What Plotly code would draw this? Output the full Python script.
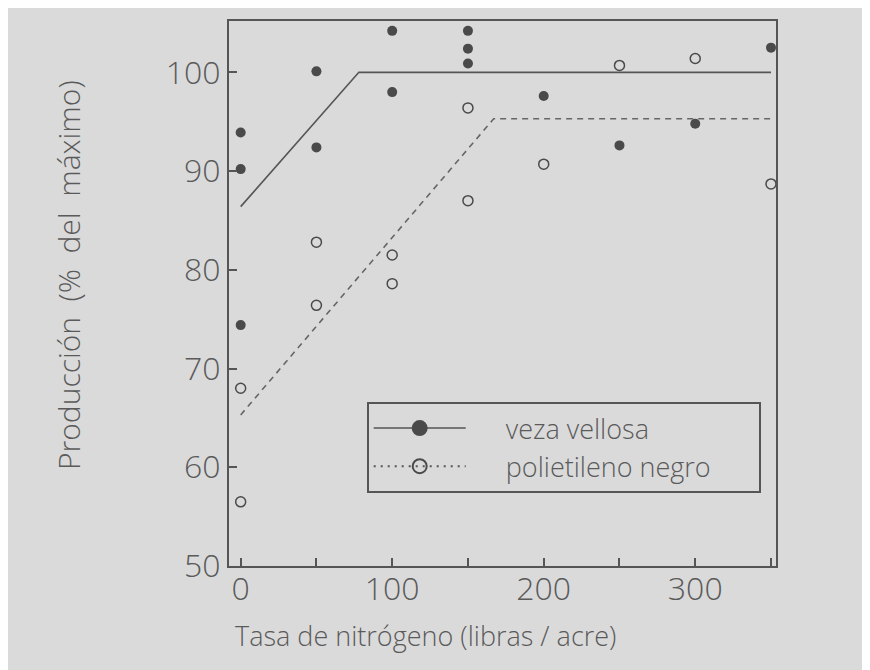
import plotly.graph_objects as go

# Data: veza vellosa (filled) and polietileno negro (open)
veza_x = [0, 0, 0, 50, 50, 100, 100, 150, 150, 150, 200, 250, 300, 350]
veza_y = [93.9, 90.2, 74.4, 100.1, 92.4, 104.2, 98.0, 104.2, 102.4, 100.9, 97.6, 92.6, 94.8, 102.5]

poli_x = [0, 0, 50, 50, 100, 100, 150, 150, 200, 250, 300, 350]
poli_y = [68.0, 56.5, 82.8, 76.4, 81.5, 78.6, 96.4, 87.0, 90.7, 100.7, 101.4, 88.7]

# fitted linear-plateau models
veza_fit_x = [0, 78, 350]
veza_fit_y = [86.4, 100, 100]
poli_fit_x = [0, 167, 350]
poli_fit_y = [65.3, 95.3, 95.3]

x_ticks = [0, 100, 200, 300]
y_ticks = [50, 60, 70, 80, 90, 100]
x_minor = [0, 50, 100, 150, 200, 250, 300, 350]

names = ["veza vellosa", "polietileno negro"]

INK = "#4a4a4a"
TXT = "#5a5a5a"
BG = "#dadada"
FONT = "Open Sans"
W = 300

# page offset (body margin) compensation
OFF = 8
L, T, R, B = 229 - OFF, 21 - OFF, 870 - 776 + OFF, 670 - 566 + OFF
PW, PH = 870 - L - R, 670 - T - B

def px2paper(px, py):
    return ((px - OFF - L) / PW, (670 - B - (py - OFF)) / PH)

fig = go.Figure()

fig.add_trace(go.Scatter(x=veza_fit_x, y=veza_fit_y, mode="lines",
                         line=dict(color="#555555", width=1.6), showlegend=False, hoverinfo="skip"))
fig.add_trace(go.Scatter(x=poli_fit_x, y=poli_fit_y, mode="lines",
                         line=dict(color="#666666", width=1.6, dash="6px,5px"), showlegend=False, hoverinfo="skip"))
fig.add_trace(go.Scatter(x=veza_x, y=veza_y, mode="markers",
                         marker=dict(symbol="circle", size=10, color=INK, line=dict(width=0)),
                         showlegend=False))
fig.add_trace(go.Scatter(x=poli_x, y=poli_y, mode="markers",
                         marker=dict(symbol="circle-open", size=10, color=INK, line=dict(width=1.5)),
                         showlegend=False))

pad = "\u00a0" * 5
tail = "\u00a0" * 6
# legend-only entries
fig.add_trace(go.Scatter(x=[None], y=[None], mode="lines+markers", name=pad + names[0],
                         line=dict(color="#555555", width=1.6),
                         marker=dict(symbol="circle", size=17, color=INK)))
fig.add_trace(go.Scatter(x=[None], y=[None], mode="lines+markers", name=pad + names[1] + tail,
                         line=dict(color="#555555", width=2, dash="2px,5px"),
                         marker=dict(symbol="circle-open", size=14, color=INK, line=dict(width=2))))

lx, ly = px2paper(366.7, 402)
yt_x, yt_y = px2paper(68, 275)
xt_x, xt_y = px2paper(425.5, 635)

fig.update_layout(
    width=870, height=670,
    margin=dict(l=L, r=R, t=T, b=B),
    paper_bgcolor=BG, plot_bgcolor=BG,
    font=dict(family=FONT, color=TXT, weight=W),
    showlegend=True,
    legend=dict(x=lx, y=ly, xanchor="left", yanchor="top",
                bgcolor=BG, bordercolor="#555555", borderwidth=2,
                font=dict(size=27, color=TXT, family=FONT, weight=W),
                itemwidth=92, tracegroupgap=0),
    xaxis=dict(range=[-7.7, 353.3], tickvals=x_ticks, ticktext=[str(v) for v in x_ticks],
               ticks="inside", ticklen=8, tickcolor="#555555", tickwidth=1.5,
               showgrid=False, zeroline=False, showline=True, linecolor="#555555", linewidth=2,
               mirror=True, tickfont=dict(size=32, color=TXT, family=FONT, weight=W),
               ticklabelstandoff=-6,
               minor=dict(tickvals=x_minor, ticks="inside", ticklen=8, tickcolor="#555555", tickwidth=1.5)),
    yaxis=dict(range=[50, 105.2], tickvals=y_ticks, ticktext=[str(v) for v in y_ticks],
               ticks="inside", ticklen=8, tickcolor="#555555", tickwidth=1.5,
               showgrid=False, zeroline=False, showline=True, linecolor="#555555", linewidth=2,
               mirror=True, tickfont=dict(size=32, color=TXT, family=FONT, weight=W)),
    annotations=[
        dict(text="Producción  (%  del  máximo)", x=yt_x, y=yt_y, xref="paper", yref="paper",
             xanchor="center", yanchor="middle",
             textangle=-90, showarrow=False, font=dict(size=30, color=TXT, family=FONT, weight=W)),
        dict(text="Tasa de nitrógeno (libras / acre)", x=xt_x, y=xt_y, xref="paper", yref="paper",
             xanchor="center", yanchor="middle", showarrow=False,
             font=dict(size=27, color=TXT, family=FONT, weight=W)),
    ],
)

fig.write_html("out.html")
